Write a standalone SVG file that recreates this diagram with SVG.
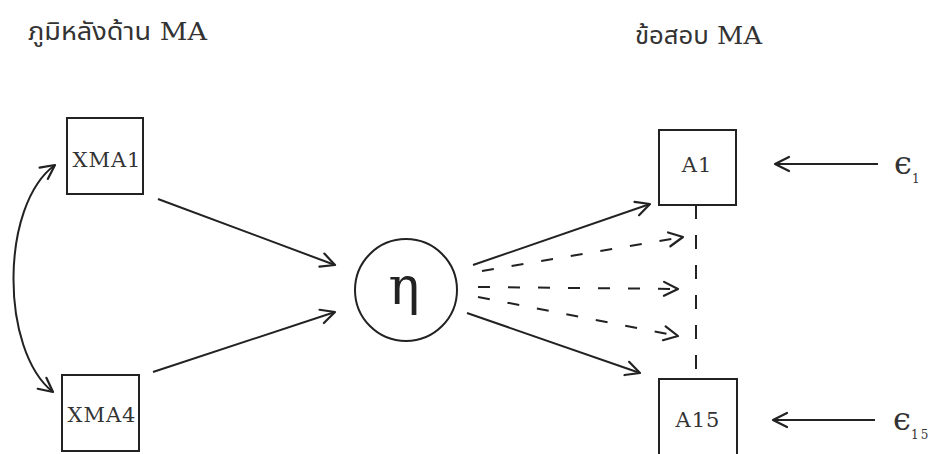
<svg xmlns="http://www.w3.org/2000/svg" width="940" height="454" viewBox="0 0 940 454">
<style>
.box{fill:#fff;stroke:#222;stroke-width:2}
.t{font-family:"DejaVu Serif","Liberation Serif",serif;fill:#333;font-size:21px;letter-spacing:1px}
.title{font-family:"DejaVu Serif","Noto Sans Thai","Noto Sans",serif;fill:#333;font-size:25px}
.c{fill:none;stroke:#222;stroke-width:2}
.d{fill:none;stroke:#222;stroke-width:2;stroke-dasharray:12 18}
.eps{font-family:"DejaVu Serif","Liberation Serif",serif;fill:#333}
</style>
<defs>
<marker id="ah" markerUnits="userSpaceOnUse" markerWidth="20" markerHeight="20" viewBox="0 0 20 20" refX="17" refY="10" orient="auto-start-reverse">
<path d="M3,3 L17,10 L3,17" fill="none" stroke="#222" stroke-width="2.2" stroke-linecap="round" stroke-linejoin="round"/>
</marker>
</defs>
<text class="title" x="28" y="40" textLength="179" lengthAdjust="spacingAndGlyphs">ภูมิหลังด้าน MA</text>
<text class="title" x="635" y="44" textLength="127" lengthAdjust="spacingAndGlyphs">ข้อสอบ MA</text>
<g id="XMA1"><rect class="box" x="67" y="118" width="76" height="76"/><text class="t" x="107" y="167" text-anchor="middle">XMA1</text></g>
<g id="XMA4"><rect class="box" x="62" y="375" width="77" height="76"/><text class="t" x="102" y="422" text-anchor="middle">XMA4</text></g>
<g id="eta"><circle cx="406" cy="290" r="51" fill="#fff" stroke="#222" stroke-width="2"/><text x="404" y="304" text-anchor="middle" font-family="DejaVu Serif,serif" font-size="52" fill="#222">η</text></g>
<g id="A1"><rect class="box" x="659" y="130" width="77" height="75"/><text class="t" x="697" y="172" text-anchor="middle">A1</text></g>
<g id="A15"><rect class="box" x="659" y="379" width="78" height="80"/><text class="t" x="698" y="427" text-anchor="middle">A15</text></g>
<g id="e1"><text class="eps" x="894" y="174" font-size="32">ϵ</text><text class="eps" x="912" y="183" font-size="12">1</text></g>
<g id="e15"><text class="eps" x="893" y="430" font-size="32">ϵ</text><text class="eps" x="911" y="439" font-size="12" letter-spacing="2">15</text></g>
<g id="connectors">
<path class="c" d="M55,165 C0,205 0,350 53,392" marker-start="url(#ah)" marker-end="url(#ah)"/>
<path class="c" d="M158,199 L335,265" marker-end="url(#ah)"/>
<path class="c" d="M153,372 L335,312" marker-end="url(#ah)"/>
<path class="c" d="M473,265 L650,204" marker-end="url(#ah)"/>
<path class="d" d="M482,271 L683,237" marker-end="url(#ah)"/>
<path class="d" d="M478,287 L678,289" marker-end="url(#ah)"/>
<path class="d" d="M478,297 L678,336" marker-end="url(#ah)"/>
<path class="c" d="M467,313 L640,373" marker-end="url(#ah)"/>
<path class="d" d="M696,205 L696,379" style="stroke-dasharray:14 16"/>
<path class="c" d="M878,164 L775,164" marker-end="url(#ah)"/>
<path class="c" d="M875,420 L773,420" marker-end="url(#ah)"/>
</g>
</svg>
